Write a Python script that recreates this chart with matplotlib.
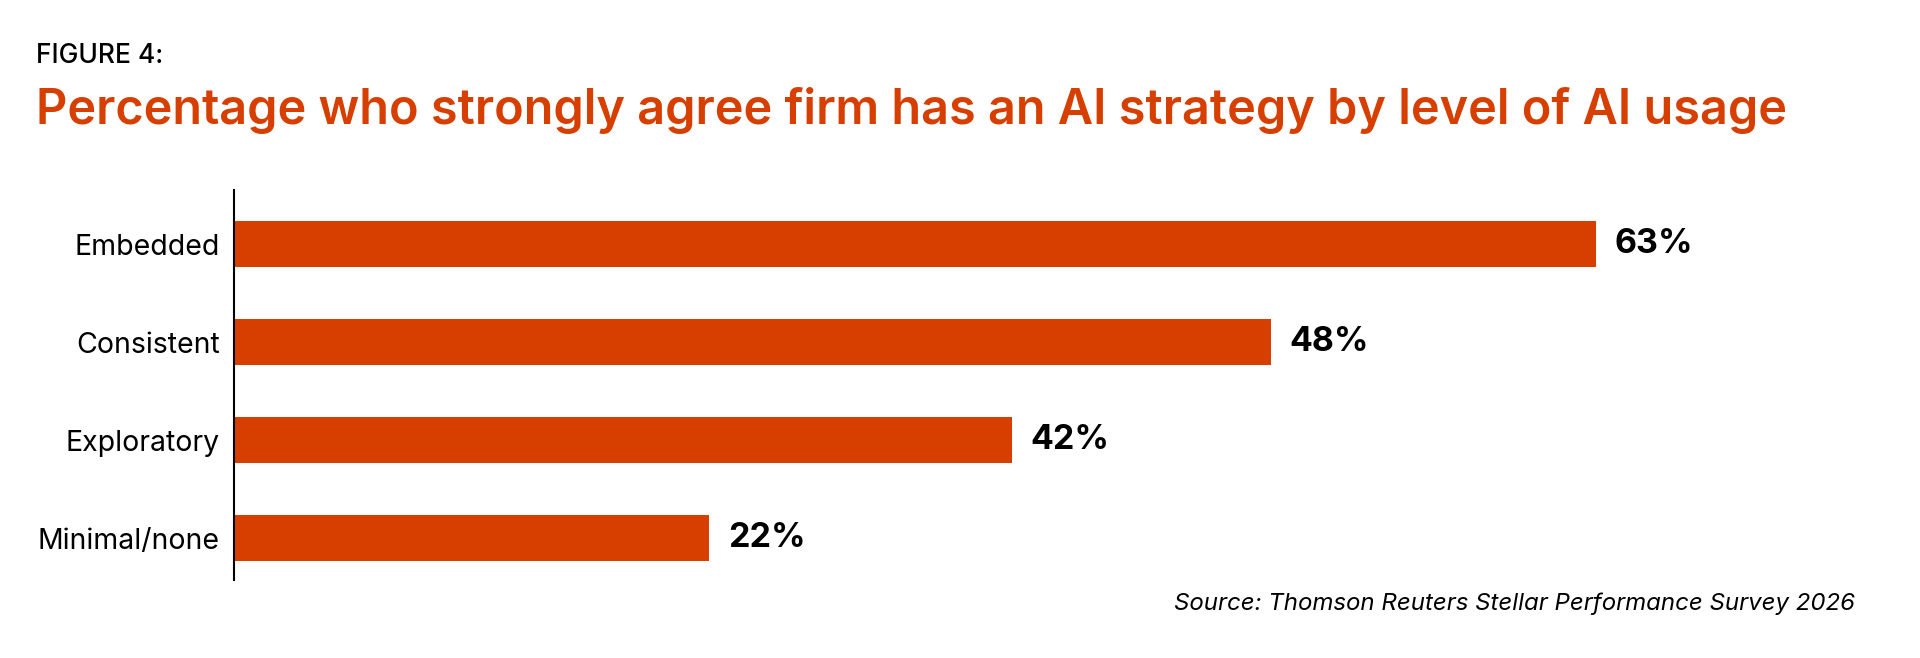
import matplotlib
matplotlib.use("Agg")
import matplotlib.pyplot as plt

categories = ["Embedded", "Consistent", "Exploratory", "Minimal/none"]
bar_lengths = [63, 48, 36, 22]
value_labels = ["63%", "48%", "42%", "22%"]
orange = "#D63F00"

fig = plt.figure(figsize=(19.2, 6.58), dpi=100)
ax = fig.add_axes([0.1218, 0.119, 0.8444, 0.592])
ys = list(range(len(categories)))
ax.barh(ys, bar_lengths, height=0.475, color=orange)
ax.set_ylim(3.425, -0.55)
ax.set_xlim(0, 75)
ax.set_yticks(ys)
ax.set_yticklabels(categories, fontsize=20.5, family="Inter")
ax.tick_params(axis="y", length=0, pad=10)
ax.set_xticks([])
for s in ["top", "right", "bottom"]:
    ax.spines[s].set_visible(False)
ax.spines["left"].set_linewidth(1.5)
for y, v, lab in zip(ys, bar_lengths, value_labels):
    ax.text(v + 0.85, y, lab, va="center", ha="left", fontsize=24.5,
            fontweight="bold", family="Inter")

fig.text(0.019, 0.915, "FIGURE 4:", fontsize=19, fontweight="medium", family="Inter", va="center")
fig.text(0.019, 0.832, "Percentage who strongly agree firm has an AI strategy by level of AI usage",
         fontsize=35, fontweight="semibold", family="Inter", color=orange, va="center")
fig.text(0.966, 0.082, "Source: Thomson Reuters Stellar Performance Survey 2026",
         fontsize=17.3, style="italic", family="Inter", ha="right", va="center")
fig.savefig("out.png", dpi=100)
